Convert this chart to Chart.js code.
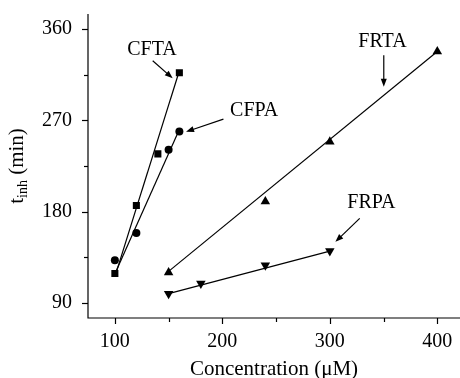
<!DOCTYPE html>
<html>
<head>
<meta charset="utf-8">
<script src="https://cdn.jsdelivr.net/npm/chart.js@4/dist/chart.umd.min.js"></script>
<style>
  html, body { margin: 0; padding: 0; background: #fff; }
  #wrap { width: 460px; height: 378px; }
</style>
</head>
<body>
<div id="wrap"><canvas id="chart" width="460" height="378"></canvas></div>
<script>
// --- data ---
const cftaX = [100, 120, 140, 160];
const cftaY = [119, 186, 237, 317];
const cfpaX = [100, 120, 150, 160];
const cfpaY = [132, 159, 241, 259];
const frtaX = [150, 240, 300, 400];
const frtaY = [120, 190, 249, 338];
const frpaX = [150, 180, 240, 300];
const frpaY = [99, 109, 127, 141];

// fitted lines (end points)
const cftaFitX = [101, 160];
const cftaFitY = [119, 319];
const cfpaFitX = [101, 160];
const cfpaFitY = [121, 261];
const frtaFitX = [150, 400];
const frtaFitY = [121, 338];
const frpaFitX = [150, 300];
const frpaFitY = [99, 141];

const xTicks = [100, 150, 200, 250, 300, 350, 400];
const yTicks = [90, 135, 180, 225, 270, 315, 360];
const xLabelled = [100, 200, 300, 400];
const yLabelled = [90, 180, 270, 360];

const pts = (xs, ys) => xs.map((x, i) => ({ x, y: ys[i] }));

const FONT = '"Liberation Serif", "Times New Roman", serif';

// labels with arrows, in data units
const notes = [
  { text: 'CFTA', tx: 134.5, ty: 339.5, from: [135.2, 328.8], to: [153.8, 311.5] },
  { text: 'CFPA', tx: 229.6, ty: 279.2, from: [201, 271.3], to: [166.2, 258.8] },
  { text: 'FRTA', tx: 349, ty: 347.8, from: [350.2, 334.4], to: [350.2, 303.2] },
  { text: 'FRPA', tx: 338.7, ty: 188.4, from: [327.8, 173.3], to: [305.2, 150.2] }
];

const marker = (data, style, r, rot) => ({
  data, showLine: false, pointStyle: style, pointRadius: r, pointRotation: rot || 0,
  backgroundColor: '#000', borderColor: '#000', borderWidth: 0, pointHoverRadius: r
});
const fit = (data) => ({
  data, showLine: true, pointRadius: 0, borderColor: '#000', borderWidth: 1.2, fill: false
});

// no extra room for tick labels, the plot box is fixed
const noPad = s => { s.paddingTop = 0; s.paddingBottom = 0; s.paddingLeft = 0; s.paddingRight = 0; };

const annotate = {
  id: 'annotate',
  afterDraw(chart) {
    const { ctx, scales: { x, y }, chartArea: a } = chart;
    ctx.save();
    ctx.strokeStyle = '#000';
    ctx.fillStyle = '#000';
    ctx.lineWidth = 1.2;

    // axes + tick marks (bottom axis runs to the edge)
    ctx.beginPath();
    ctx.moveTo(a.left, a.top);
    ctx.lineTo(a.left, a.bottom);
    ctx.lineTo(chart.width, a.bottom);
    ctx.stroke();
    xTicks.forEach(v => {
      const px = Math.round(x.getPixelForValue(v)) + 0.5;
      const len = xLabelled.includes(v) ? 6 : 4;
      ctx.beginPath(); ctx.moveTo(px, a.bottom); ctx.lineTo(px, a.bottom + len); ctx.stroke();
    });
    yTicks.forEach(v => {
      const py = Math.round(y.getPixelForValue(v)) + 0.5;
      const len = yLabelled.includes(v) ? 6 : 4;
      ctx.beginPath(); ctx.moveTo(a.left, py); ctx.lineTo(a.left - len, py); ctx.stroke();
    });

    // notes and arrows
    ctx.font = '20px ' + FONT;
    ctx.textAlign = 'center';
    ctx.textBaseline = 'middle';
    notes.forEach(n => {
      ctx.fillText(n.text, x.getPixelForValue(n.tx), y.getPixelForValue(n.ty));
      const x0 = x.getPixelForValue(n.from[0]), y0 = y.getPixelForValue(n.from[1]);
      const x1 = x.getPixelForValue(n.to[0]), y1 = y.getPixelForValue(n.to[1]);
      const ang = Math.atan2(y1 - y0, x1 - x0);
      const hl = 8, hw = 3;
      ctx.beginPath();
      ctx.moveTo(x0, y0);
      ctx.lineTo(x1 - hl * Math.cos(ang) * 0.8, y1 - hl * Math.sin(ang) * 0.8);
      ctx.stroke();
      ctx.beginPath();
      ctx.moveTo(x1, y1);
      ctx.lineTo(x1 - hl * Math.cos(ang) + hw * Math.sin(ang), y1 - hl * Math.sin(ang) - hw * Math.cos(ang));
      ctx.lineTo(x1 - hl * Math.cos(ang) - hw * Math.sin(ang), y1 - hl * Math.sin(ang) + hw * Math.cos(ang));
      ctx.closePath();
      ctx.fill();
    });

    // axis titles
    ctx.font = '21px ' + FONT;
    ctx.fillText('Concentration (\u03bcM)', (a.left + chart.width) / 2, 369);

    ctx.translate(16, (a.top + a.bottom) / 2);
    ctx.rotate(-Math.PI / 2);
    ctx.textAlign = 'left';
    ctx.textBaseline = 'alphabetic';
    const big = '21px ' + FONT, small = '14px ' + FONT;
    ctx.font = big; const wT = ctx.measureText('t').width;
    ctx.font = small; const wS = ctx.measureText('inh').width;
    ctx.font = big; const wM = ctx.measureText(' (min)').width;
    let cx = -(wT + wS + wM) / 2;
    ctx.font = big; ctx.fillText('t', cx, 7); cx += wT;
    ctx.font = small; ctx.fillText('inh', cx, 11); cx += wS;
    ctx.font = big; ctx.fillText(' (min)', cx, 7);
    ctx.restore();
  }
};

new Chart(document.getElementById('chart'), {
  type: 'scatter',
  data: {
    datasets: [
      marker(pts(cftaX, cftaY), 'rect', 5),
      marker(pts(cfpaX, cfpaY), 'circle', 4),
      marker(pts(frtaX, frtaY), 'triangle', 5.5),
      marker(pts(frpaX, frpaY), 'triangle', 5.5, 180),
      fit(pts(cftaFitX, cftaFitY)),
      fit(pts(cfpaFitX, cfpaFitY)),
      fit(pts(frtaFitX, frtaFitY)),
      fit(pts(frpaFitX, frpaFitY))
    ]
  },
  options: {
    responsive: false,
    animation: false,
    events: [],
    layout: { padding: { top: 14, right: 0, left: 0, bottom: 0 } },
    plugins: { legend: { display: false }, tooltip: { enabled: false } },
    scales: {
      x: {
        type: 'linear', min: 75, max: 416,
        border: { display: false },
        grid: { display: false },
        afterBuildTicks: s => { s.ticks = xTicks.map(v => ({ value: v })); },
        afterFit: s => { s.height = 60; noPad(s); },
        ticks: {
          color: '#000', padding: 4, maxRotation: 0,
          font: { family: FONT, size: 20 },
          callback: v => xLabelled.includes(v) ? String(v) : ''
        }
      },
      y: {
        type: 'linear', min: 75, max: 375,
        border: { display: false },
        grid: { display: false },
        afterBuildTicks: s => { s.ticks = yTicks.map(v => ({ value: v })); },
        afterFit: s => { s.width = 88; noPad(s); },
        ticks: {
          color: '#000', padding: 8,
          font: { family: FONT, size: 20 },
          callback: v => yLabelled.includes(v) ? String(v) : ''
        }
      }
    }
  },
  plugins: [annotate]
});
</script>
</body>
</html>
